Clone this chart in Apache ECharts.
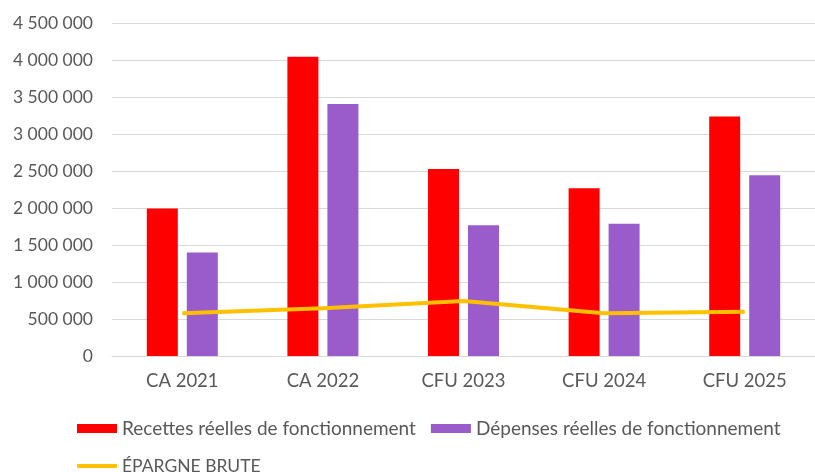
<!DOCTYPE html>
<html>
<head>
<meta charset="utf-8">
<script src="https://cdn.jsdelivr.net/npm/echarts@6/dist/echarts.min.js"></script>
<style>
  html, body { margin: 0; padding: 0; background: #fff; }
  #main { width: 815px; height: 472px; }
</style>
</head>
<body>
<div id="main"></div>
<script>
// donnees
var categories = ['CA 2021', 'CA 2022', 'CFU 2023', 'CFU 2024', 'CFU 2025'];
var recettes = [1995000, 4050000, 2530000, 2270000, 3240000];
var depenses = [1400000, 3410000, 1770000, 1790000, 2445000];
var epargne = [578000, 645000, 745000, 578000, 600000];

var FONT = 'Lato';
var GREY = '#595959';

function fmtSpace(v) {
    return String(v).replace(/\B(?=(\d{3})+(?!\d))/g, ' ');
}

var myChart = echarts.init(document.getElementById('main'), null, { renderer: 'canvas' });

var option = {
    animation: false,
    backgroundColor: '#fff',
    textStyle: { fontFamily: FONT },
    grid: { left: 112, top: 23.5, width: 707, bottom: 116, containLabel: false },
    legend: [
        {
            left: 72, top: 414,
            itemWidth: 40, itemHeight: 9, itemGap: 15,
            icon: 'rect',
            textStyle: { fontFamily: FONT, fontSize: 19, color: GREY },
            data: ['Recettes réelles de fonctionnement', 'Dépenses réelles de fonctionnement']
        },
        {
            left: 72, top: 452,
            itemWidth: 40, itemHeight: 4,
            icon: 'roundRect',
            textStyle: { fontFamily: FONT, fontSize: 17.5, color: GREY },
            data: ['ÉPARGNE BRUTE']
        }
    ],
    xAxis: {
        type: 'category',
        data: categories,
        axisLine: { lineStyle: { color: '#D9D9D9', width: 1 } },
        axisTick: { show: false },
        axisLabel: { color: GREY, fontFamily: FONT, fontSize: 18.5, margin: 16 }
    },
    yAxis: {
        type: 'value',
        min: 0, max: 4500000, interval: 500000,
        axisLine: { show: false },
        axisTick: { show: false },
        splitLine: { lineStyle: { color: '#D9D9D9', width: 1 } },
        axisLabel: {
            color: GREY, fontFamily: FONT, fontSize: 17.5, margin: 19,
            formatter: fmtSpace
        }
    },
    series: [
        {
            name: 'Recettes réelles de fonctionnement',
            type: 'bar',
            data: recettes,
            barWidth: 31,
            barGap: '29%',
            itemStyle: { color: '#FF0000' }
        },
        {
            name: 'Dépenses réelles de fonctionnement',
            type: 'bar',
            data: depenses,
            barWidth: 31,
            barGap: '29%',
            itemStyle: { color: '#9A5BCB' }
        },
        {
            name: 'ÉPARGNE BRUTE',
            type: 'line',
            data: epargne,
            symbol: 'none',
            z: 5,
            itemStyle: { color: '#FFC000' },
            lineStyle: { color: '#FFC000', width: 4 }
        }
    ]
};

myChart.setOption(option);
</script>
</body>
</html>
